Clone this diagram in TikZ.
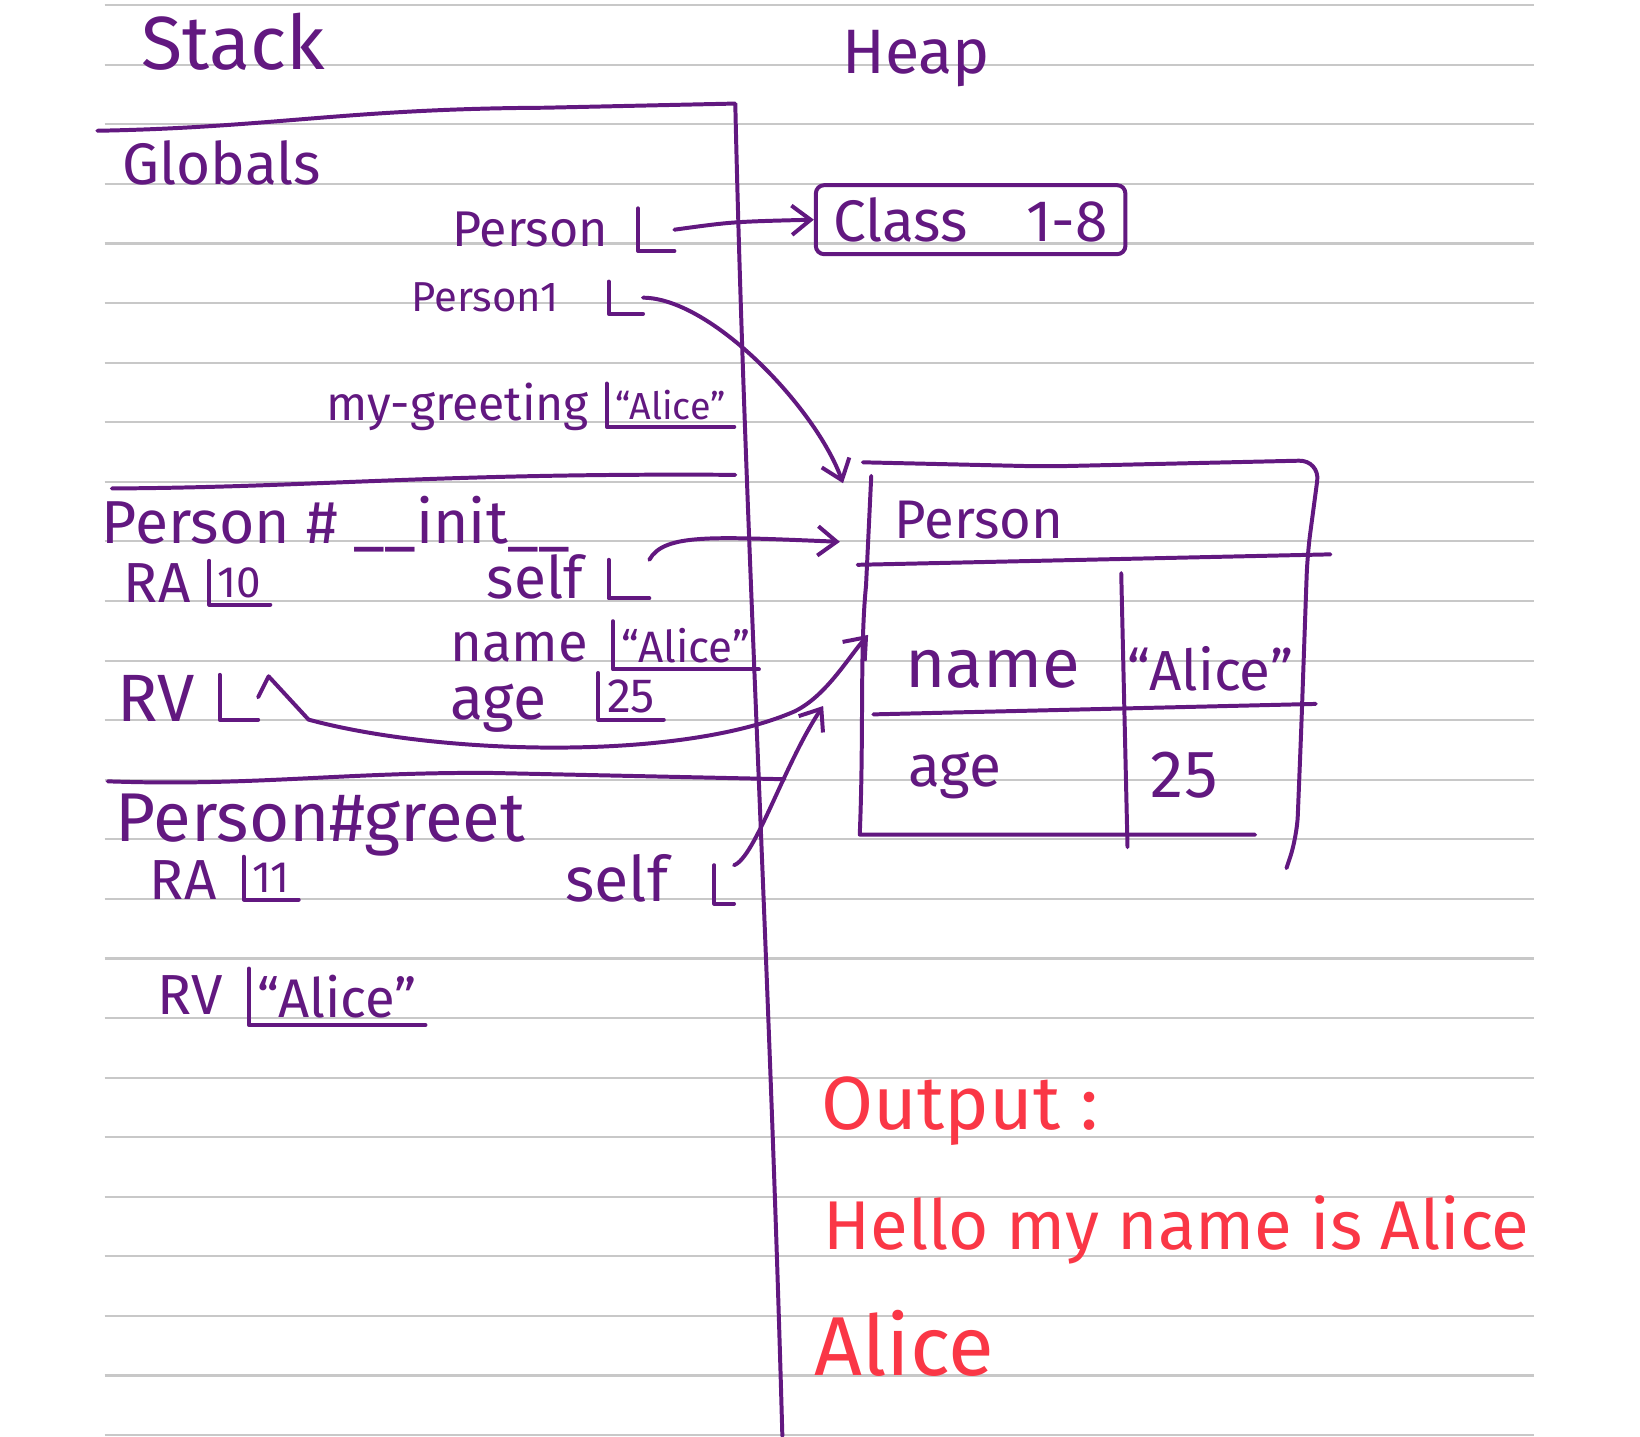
\documentclass[tikz,border=0pt]{standalone}
\usepackage{fontspec}
\setmainfont{Fira Sans}
\usepackage{xcolor}
\usepackage{tikz}
\usetikzlibrary{arrows.meta,positioning}
\definecolor{ink}{RGB}{98,24,128}
\definecolor{redink}{RGB}{250,55,70}
\definecolor{ruleline}{RGB}{200,200,200}
\newcommand{\handsize}[1]{\fontsize{#1}{#1}\selectfont}

\begin{document}
\begin{tikzpicture}[
    x=0.5pt, y=-0.5pt,
    inkline/.style={draw=ink, line width=1.9pt, line cap=round, line join=round},
    ptr/.style={inkline, -{Straight Barb[length=9pt, width=14pt]}},
    hand/.style={text=ink, inner sep=0pt, anchor=base west},
    outtext/.style={text=redink, inner sep=0pt, anchor=base west},
    lref/.style={text=ink, inner xsep=4pt, inner ysep=3pt, anchor=south west}
]
    % Paper with ruled lines
    \fill[white] (0,0) rectangle (1568,1373);
    \useasboundingbox (0,0) rectangle (1568,1373);
    \foreach \k in {0,...,24} {
        \draw[ruleline, line width=1pt] (100,5+56.96*\k) -- (1467,5+56.96*\k);
    }

    % Titles
    \node[hand, font=\handsize{36}] (stack) at (135,66) {Stack};
    \node[hand, font=\handsize{30}] (heap) at (805,70) {Heap};

    % Stack / heap border and frame separators
    \draw[inkline] (93,125) .. controls (260,122) and (330,104) .. (520,103) -- (703,99)
        .. controls (712,500) and (735,900) .. (748,1373);
    \draw[inkline] (107,467) .. controls (300,466) and (420,452) .. (703,454);
    \draw[inkline] (103,747) .. controls (240,752) and (330,738) .. (470,739) -- (750,745);

    % Globals frame
    \node[hand, font=\handsize{28}] (globals) at (117,176) {Globals};
    \node[hand, font=\handsize{24}] (gperson) at (432,236) {Person};
    \node[lref, minimum width=17pt, minimum height=20pt] (personL) at (610,240) {};
    \node[hand, font=\handsize{20}] (gperson1) at (393,298) {Person1};
    \node[lref, minimum width=16pt, minimum height=15pt] (person1L) at (582,300) {};
    \node[hand, font=\handsize{23}] (greeting) at (312,402) {my-greeting};
    \node[lref, font=\handsize{18}] (greetL) at (580,408) {“Alice”};

    % Person#__init__ frame
    \node[hand, font=\handsize{29}] (init) at (97,520) {Person \# \_\_init\_\_};
    \node[hand, font=\handsize{27}] (ra10) at (118,576) {RA};
    \node[lref, font=\handsize{21}] (ra10L) at (200,578) {10};
    \node[hand, font=\handsize{28}] (selfA) at (465,572) {self};
    \node[lref, minimum width=19pt, minimum height=18pt] (selfAL) at (582,572) {};
    \node[hand, font=\handsize{26}] (nameA) at (430,632) {name};
    \node[lref, font=\handsize{21}] (nameAL) at (586,640) {“Alice”};
    \node[hand, font=\handsize{29}] (ageA) at (430,688) {age};
    \node[lref, font=\handsize{23}] (ageAL) at (572,688) {25};
    \node[hand, font=\handsize{32}] (rvA) at (112,690) {RV};
    \node[lref, minimum width=18pt, minimum height=21pt] (rvAL) at (210,688) {};

    % Person#greet frame
    \node[hand, font=\handsize{33}] (greet) at (110,805) {Person\#greet};
    \node[hand, font=\handsize{27}] (ra11) at (143,860) {RA};
    \node[lref, font=\handsize{21}] (ra11L) at (233,860) {11};
    \node[hand, font=\handsize{30}] (selfB) at (540,862) {self};
    \node[lref, minimum width=9pt, minimum height=18pt] (selfBL) at (683,864) {};
    \node[hand, font=\handsize{27}] (rvB) at (150,970) {RV};
    \node[lref, font=\handsize{26}] (rvBL) at (238,980) {“Alice”};

    % L brackets of the slots
    \foreach \n in {personL,person1L,greetL,ra10L,selfAL,nameAL,ageAL,rvAL,ra11L,selfBL,rvBL} {
        \draw[inkline] (\n.north west) |- (\n.south east);
    }

    % Heap: class object
    \node[draw=ink, line width=1.9pt, rounded corners=4pt, minimum width=148pt, minimum height=33pt,
        text=ink, font=\handsize{28}] (classbox) at (928,210) {Class\quad 1-8};

    % Heap: Person instance
    \draw[inkline] (1200,798) -- (822,798) .. controls (826,700) and (822,620) .. (828,560) -- (833,455);
    \draw[inkline, rounded corners=10pt] (825,442) -- (1000,446) -- (1262,440) -- (1250,530)
        -- (1244,700) -- (1240,800) -- (1230,830);
    \draw[inkline] (820,540) -- (1272,530);
    \draw[inkline] (835,683) -- (1258,673);
    \draw[inkline] (1072,548) -- (1078,810);
    \node[hand, font=\handsize{26}] (objtitle) at (855,515) {Person};
    \node[hand, font=\handsize{33}] (namekey) at (865,657) {name};
    \node[hand, font=\handsize{27}] (nameval) at (1078,660) {“Alice”};
    \node[hand, font=\handsize{28}] (agekey) at (868,752) {age};
    \node[hand, font=\handsize{32}] (ageval) at (1100,762) {25};
    \coordinate (objtop) at (806,462);
    \coordinate (objhead) at (803,518);
    \coordinate (objname) at (830,607);
    \coordinate (objage) at (787,675);

    % References
    \draw[ptr] (personL.east) .. controls (700,212) .. (classbox.west);
    \draw[ptr] (person1L.east) .. controls (680,285) and (780,390) .. (objtop);
    \draw[ptr] (selfAL.north east) .. controls (635,510) and (680,513) .. (objhead);
    \draw[ptr] (rvAL.east) -- ++(10,-20) -- (295,688) .. controls (420,722) and (650,728) .. (760,680)
        .. controls (790,665) and (810,630) .. (objname);
    \draw[ptr] (selfBL.north east) .. controls (722,820) and (750,730) .. (objage);

    % Program output
    \node[outtext, font=\handsize{36}] (output) at (785,1080) {Output :};
    \node[outtext, font=\handsize{33}] (hello) at (787,1195) {Hello my name is Alice};
    \node[outtext, font=\handsize{40}] (alice) at (778,1315) {Alice};
\end{tikzpicture}
\end{document}
